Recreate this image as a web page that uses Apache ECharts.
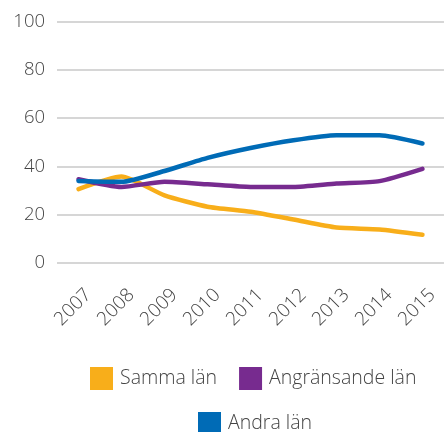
<!DOCTYPE html>
<html>
<head>
<meta charset="utf-8">
<script src="https://cdn.jsdelivr.net/npm/echarts@6/dist/echarts.min.js"></script>
<style>
html,body{margin:0;padding:0;background:#fff;}
#c{width:444px;height:432px;}
</style>
</head>
<body>
<div id="c"></div>
<script>
const years = ['2007','2008','2009','2010','2011','2012','2013','2014','2015'];
const sammaLan = [30.6, 35.8, 28.0, 23.3, 21.2, 18.0, 14.7, 13.9, 11.7];
const angransandeLan = [34.7, 31.5, 33.6, 32.6, 31.5, 31.5, 32.9, 33.9, 39.0];
const andraLan = [34.0, 33.6, 38.1, 43.5, 47.6, 50.8, 52.9, 52.9, 49.5];
const yTicks = [0, 20, 40, 60, 80, 100];

const colors = {samma:'#F8AE1A', ang:'#772B8F', andra:'#006BB6'};
const font = '"Open Sans", Lato, sans-serif';

const chart = echarts.init(document.getElementById('c'), null, {renderer:'canvas'});
const legendText = {fontFamily: font, fontSize: 19.5, fontWeight: 300, color: '#444', padding: [0,0,0,2]};
chart.setOption({
  animation: false,
  grid: {left: 57, right: -7, top: 21.5, bottom: 169, containLabel: false},
  legend: [
    {data: ['Samma län', 'Angränsande län'], top: 367, left: 90, padding: 0, itemWidth: 23, itemHeight: 23,
     itemGap: 22, icon: 'rect', textStyle: legendText, itemStyle:{borderWidth:0}},
    {data: ['Andra län'], top: 412, left: 198, padding: 0, itemWidth: 23, itemHeight: 23,
     icon: 'rect', textStyle: legendText, itemStyle:{borderWidth:0}}
  ],
  xAxis: {
    type: 'category', data: years, boundaryGap: true,
    axisLine: {show: false}, axisTick: {show: false},
    axisLabel: {rotate: 45, fontFamily: font, fontSize: 19, fontWeight: 300, color: '#444',
                margin: 19, verticalAlign: 'top', lineHeight: 28}
  },
  yAxis: {
    type: 'value', min: yTicks[0], max: yTicks[yTicks.length-1], interval: 20,
    axisLine: {show: false}, axisTick: {show: false},
    axisLabel: {fontFamily: font, fontSize: 18.5, fontWeight: 300, color: '#444', margin: 12},
    splitLine: {lineStyle: {color: '#c8c8c8', width: 1.5}}
  },
  series: [
    {name: 'Samma län', type: 'line', data: sammaLan, smooth: 0.2, symbol: 'none',
     lineStyle: {width: 4.5, color: colors.samma, cap: 'round'}, itemStyle: {color: colors.samma}},
    {name: 'Angränsande län', type: 'line', data: angransandeLan, smooth: 0.2, symbol: 'none',
     lineStyle: {width: 4.5, color: colors.ang, cap: 'round'}, itemStyle: {color: colors.ang}},
    {name: 'Andra län', type: 'line', data: andraLan, smooth: 0.2, symbol: 'none',
     lineStyle: {width: 4.5, color: colors.andra, cap: 'round'}, itemStyle: {color: colors.andra}}
  ]
});
</script>
</body>
</html>
